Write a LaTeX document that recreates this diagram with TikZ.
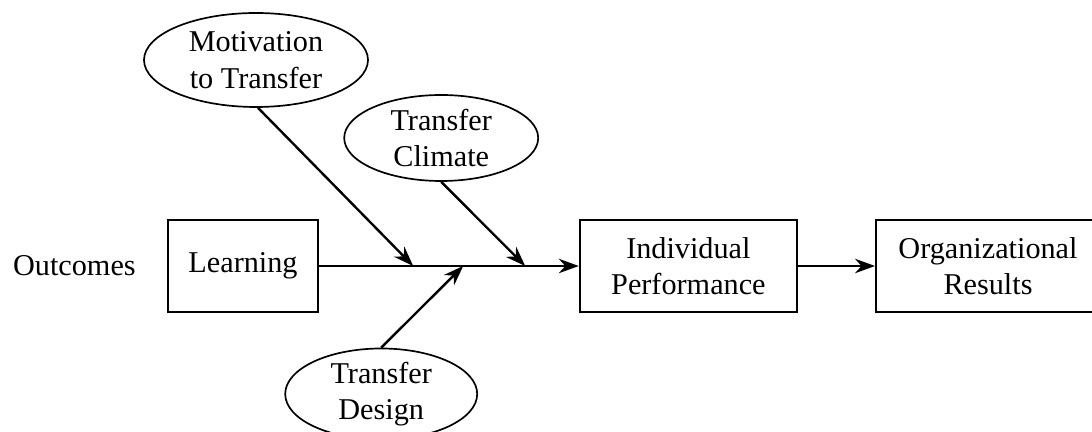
\documentclass[tikz,border=0pt]{standalone}
\usepackage{fontspec}
\setmainfont{Liberation Serif}
\usetikzlibrary{arrows.meta, positioning, shapes.geometric}

\begin{document}
\begin{tikzpicture}[
    stage/.style={draw, line width=1.4pt, minimum height=2.3cm, align=center,
                  font=\fontsize{21.5}{26}\selectfont, inner sep=0pt},
    factor/.style={draw, ellipse, line width=1.2pt, align=center,
                   font=\fontsize{21.5}{26}\selectfont, inner sep=0pt},
    flow/.style={line width=1.7pt, -{Stealth[length=0.5cm, width=0.36cm]}},
]
    \useasboundingbox (0,0) rectangle (27.3,10.8);

    % Outcome stages
    \node[font=\fontsize{21.5}{26}\selectfont] (outc) at (1.86, 4.15) {Outcomes};
    \node[stage, minimum width=3.75cm] (learn) at (6.075, 4.15) {Learning};
    \node[stage, minimum width=5.43cm] (perf) at (17.21, 4.15) {Individual\\Performance};
    \node[stage, minimum width=5.6cm, text width=5.43cm] (org) at (24.7, 4.15) {Organizational\\Results};

    % Transfer factors
    \node[factor, minimum width=5.6cm, minimum height=2.35cm] (motiv) at (6.4, 9.3) {Motivation\\to Transfer};
    \node[factor, minimum width=4.85cm, minimum height=2.15cm] (climate) at (11.03, 7.35) {Transfer\\Climate};
    \node[factor, minimum width=4.8cm, minimum height=2.2cm] (design) at (9.53, 0.95) {Transfer\\Design};

    % Meeting points on the main line
    \coordinate (jmotiv) at (10.33, 4.15);
    \coordinate (jdesign) at (11.58, 4.15);
    \coordinate (jclimate) at (13.13, 4.15);

    % Connectors
    \draw[flow] (learn.east) -- (perf.west);
    \draw[flow] (perf.east) -- (org.west);
    \draw[flow] ([xshift=0.05cm]motiv.south) -- (jmotiv);
    \draw[flow] (climate.south) -- (jclimate);
    \draw[flow] (design.north) -- (jdesign);
\end{tikzpicture}
\end{document}
